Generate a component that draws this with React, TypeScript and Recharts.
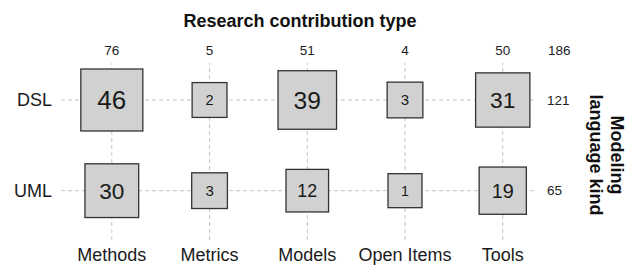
import React from "react";
import {
  ReferenceLine,
  Scatter,
  ScatterChart,
  XAxis,
  YAxis,
  ZAxis,
} from "recharts";

const categories = ["Methods", "Metrics", "Models", "Open Items", "Tools"];
const languages = ["UML", "DSL"]; // index 0 = bottom row
const dslCounts = [46, 2, 39, 3, 31];
const umlCounts = [30, 3, 12, 1, 19];
const columnTotals = [76, 5, 51, 4, 50];
const rowTotals = [65, 121]; // UML, DSL
const grandTotal = 186;

const font = "'Liberation Sans', Arial, sans-serif";

const points = categories.flatMap((c, i) => [
  { x: i, y: 1, lang: languages[1], type: c, count: dslCounts[i] },
  { x: i, y: 0, lang: languages[0], type: c, count: umlCounts[i] },
]);

const Box = (props: any) => {
  const { cx, cy, width, payload } = props;
  const side = width;
  return (
    <g>
      <rect
        x={cx - side / 2}
        y={cy - side / 2}
        width={side}
        height={side}
        fill="#d0d1d0"
        stroke="#333"
        strokeWidth={1.3}
      />
      <text
        x={cx}
        y={cy}
        dy="0.36em"
        textAnchor="middle"
        fontFamily={font}
        fontSize={side * 0.42}
        fill="#1a1a1a"
      >
        {payload.count}
      </text>
    </g>
  );
};

export default function App() {
  return (
    <div
      style={{
        position: "absolute",
        left: 0,
        top: 0,
        width: 630,
        height: 265,
        overflow: "hidden",
      }}
    >
      <div
        style={{
          position: "absolute",
          left: 300,
          top: 12,
          transform: "translateX(-50%)",
          fontFamily: font,
          fontWeight: "bold",
          fontSize: 18,
          lineHeight: "18px",
          whiteSpace: "nowrap",
          color: "#111",
        }}
      >
        Research contribution type
      </div>
      <div
        style={{
          position: "absolute",
          left: 606,
          top: 155,
          transform: "translate(-50%, -50%) rotate(90deg)",
          fontFamily: font,
          fontWeight: "bold",
          fontSize: 18,
          lineHeight: "21px",
          textAlign: "center",
          whiteSpace: "nowrap",
          color: "#111",
        }}
      >
        Modeling
        <br />
        language kind
      </div>
      <ScatterChart
        width={630}
        height={265}
        margin={{ top: 38, right: 43, bottom: 0, left: 0 }}
      >
        <XAxis
          type="number"
          dataKey="x"
          domain={[-0.52, 4.33]}
          allowDataOverflow
          ticks={[0, 1, 2, 3, 4]}
          interval={0}
          tickFormatter={(i: number) => categories[i]}
          axisLine={false}
          tickLine={false}
          tickSize={0}
          tickMargin={8}
          height={25}
          tick={{ fontSize: 18, fill: "#1a1a1a", fontFamily: font }}
        />
        <XAxis
          xAxisId="top"
          orientation="top"
          type="number"
          dataKey="x"
          domain={[-0.52, 4.33]}
          allowDataOverflow
          ticks={[0, 1, 2, 3, 4]}
          interval={0}
          tickFormatter={(i: number) => String(columnTotals[i])}
          axisLine={false}
          tickLine={false}
          tickSize={0}
          tickMargin={8}
          height={25}
          tick={{ fontSize: 13.5, fill: "#222", fontFamily: font }}
          label={{
            value: String(grandTotal),
            position: "right",
            offset: 13,
            fontSize: 13.5,
            fill: "#222",
            fontFamily: font,
          }}
        />
        <YAxis
          type="number"
          dataKey="y"
          domain={[-0.544, 1.408]}
          allowDataOverflow
          ticks={[0, 1]}
          interval={0}
          tickFormatter={(i: number) => languages[i]}
          axisLine={false}
          tickLine={false}
          tickSize={0}
          tickMargin={9}
          width={61}
          tick={{ fontSize: 18, fill: "#1a1a1a", fontFamily: font }}
        />
        <YAxis
          yAxisId="right"
          orientation="right"
          type="number"
          dataKey="y"
          domain={[-0.544, 1.408]}
          allowDataOverflow
          ticks={[0, 1]}
          interval={0}
          tickFormatter={(i: number) => String(rowTotals[i])}
          axisLine={false}
          tickLine={false}
          tickSize={0}
          tickMargin={12}
          width={52}
          tick={{ fontSize: 13.5, fill: "#222", fontFamily: font }}
        />
        <ZAxis type="number" dataKey="count" domain={[0, 50]} range={[861, 3206]} />
        <ZAxis zAxisId="none" type="number" dataKey="count" domain={[0, 50]} range={[861, 3206]} />
        {categories.map((c, i) => (
          <ReferenceLine
            key={c}
            x={i}
            stroke="#c4c4c4"
            strokeDasharray="4 3"
          />
        ))}
        {languages.map((l, i) => (
          <ReferenceLine
            key={l}
            y={i}
            stroke="#c4c4c4"
            strokeDasharray="4 3"
          />
        ))}
        <Scatter
          data={points}
          xAxisId="top"
          yAxisId="right"
          zAxisId="none"
          shape={() => <g />}
          isAnimationActive={false}
        />
        <Scatter data={points} shape={Box} isAnimationActive={false} />
      </ScatterChart>
    </div>
  );
}
